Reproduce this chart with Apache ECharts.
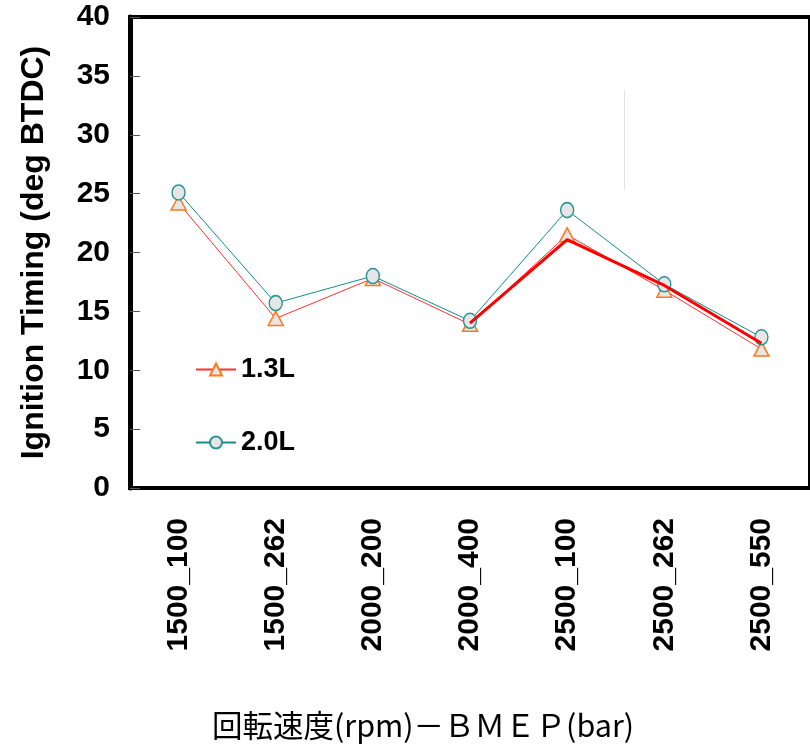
<!DOCTYPE html>
<html>
<head>
<meta charset="utf-8">
<script src="https://cdn.jsdelivr.net/npm/echarts@6/dist/echarts.min.js"></script>
<style>
  html, body { margin: 0; padding: 0; background: #fff; }
  #chart { width: 810px; height: 747px; }
</style>
</head>
<body>
<div id="chart"></div>
<script>
const categories = ["1500_100", "1500_262", "2000_200", "2000_400", "2500_100", "2500_262", "2500_550"];
const yTicks = [0, 5, 10, 15, 20, 25, 30, 35, 40];
const series13L = [24.2, 14.4, 17.8, 13.9, 21.5, 16.8, 11.8];
const series20L = [25.1, 15.7, 18.0, 14.2, 23.6, 17.3, 12.8];
// thick red overlay line (no markers, not in legend)
const overlay = [null, null, null, 14.0, 21.1, 17.2, 12.3];

const myChart = echarts.init(document.getElementById("chart"));

const option = {
  backgroundColor: "#fff",
  animation: false,
  textStyle: { fontFamily: "Liberation Sans, Arial, sans-serif" },
  grid: {
    left: 130,
    top: 17,
    width: 689,
    height: 471,
    show: true,
    borderColor: "#000",
    borderWidth: 4
  },
  legend: {
    orient: "vertical",
    left: 190,
    top: 351,
    itemGap: 46,
    itemWidth: 40,
    itemHeight: 15,
    data: ["1.3L", "2.0L"],
    textStyle: { fontSize: 27, fontWeight: "bold", color: "#000" }
  },
  graphic: [
    {
      type: "text",
      left: 212,
      top: 710,
      style: {
        text: "回転速度(rpm)－ＢＭＥＰ(bar)",
        fontSize: 30.5,
        fontFamily: "Noto Sans CJK JP",
        fill: "#000"
      }
    },
    {
      // faint stray vertical stroke in the original
      type: "line",
      shape: { x1: 624.5, y1: 90, x2: 624.5, y2: 190 },
      style: { stroke: "#e2e2e2", lineWidth: 1 }
    }
  ],
  xAxis: {
    type: "category",
    data: categories,
    boundaryGap: true,
    axisLine: { lineStyle: { color: "#000", width: 4 } },
    axisTick: { inside: true, length: 10, lineStyle: { color: "#555", width: 1 } },
    axisLabel: {
      rotate: 90,
      margin: 30,
      fontSize: 30,
      fontWeight: "bold",
      color: "#000"
    },
    splitLine: { show: false }
  },
  yAxis: {
    type: "value",
    min: yTicks[0],
    max: yTicks[yTicks.length - 1],
    interval: 5,
    name: "Ignition Timing (deg BTDC)",
    nameLocation: "middle",
    nameGap: 80,
    nameTextStyle: { fontSize: 32, fontWeight: "bold", color: "#000" },
    axisLine: { show: true, lineStyle: { color: "#000", width: 5 } },
    axisTick: { show: true, inside: true, length: 10, lineStyle: { color: "#555", width: 1 } },
    axisLabel: { margin: 20, fontSize: 30, fontWeight: "bold", color: "#000" },
    splitLine: { show: false }
  },
  series: [
    {
      name: "1.3L",
      type: "line",
      data: series13L,
      symbol: "triangle",
      symbolSize: [15, 14],
      lineStyle: { color: "#ff3030", width: 1 },
      itemStyle: { color: "#e6e6e6", borderColor: "#ff7a1a", borderWidth: 1.5 },
      z: 3
    },
    {
      name: "2.0L",
      type: "line",
      data: series20L,
      symbol: "circle",
      symbolSize: [13, 15],
      lineStyle: { color: "#138c8c", width: 1 },
      itemStyle: { color: "#e6e6e6", borderColor: "#2a9595", borderWidth: 1.5 },
      z: 4
    },
    {
      name: "overlay",
      type: "line",
      data: overlay,
      symbol: "none",
      lineStyle: { color: "#ff0000", width: 3 },
      z: 5
    }
  ]
};

myChart.setOption(option);
</script>
</body>
</html>
